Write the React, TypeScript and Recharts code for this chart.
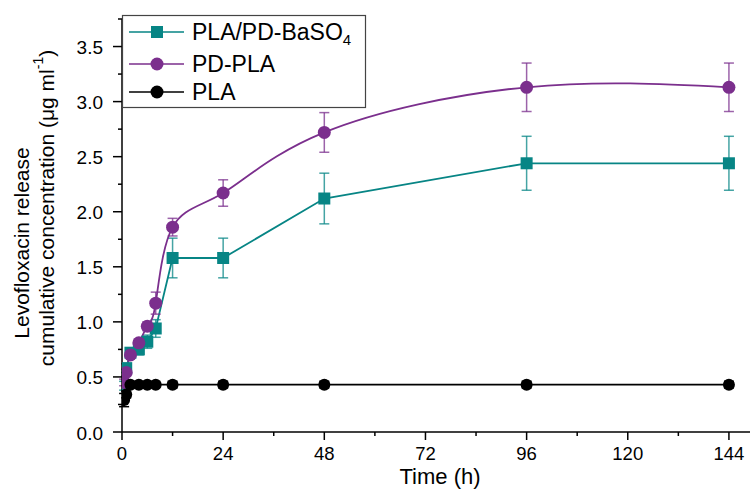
import React from 'react';
import { LineChart, Line, XAxis, YAxis, ErrorBar } from 'recharts';

// sampling times (h)
const times = [0.5, 1, 2, 4, 6, 8, 12, 24, 48, 96, 144];

// PLA/PD-BaSO4
const baso4 = [0.42, 0.58, 0.72, 0.75, 0.82, 0.94, 1.58, 1.58, 2.12, 2.44, 2.44];
const baso4Err = [0.04, 0.04, 0.04, 0.05, 0.06, 0.08, 0.18, 0.18, 0.23, 0.245, 0.245];

// PD-PLA
const pdpla = [0.45, 0.54, 0.7, 0.81, 0.96, 1.17, 1.86, 2.17, 2.72, 3.13, 3.13];
const pdplaErr = [0.03, 0.03, 0.03, 0.03, 0.04, 0.1, 0.08, 0.12, 0.18, 0.22, 0.22];

// PLA
const pla = [0.29, 0.34, 0.43, 0.43, 0.43, 0.43, 0.43, 0.43, 0.43, 0.43, 0.43];
const plaErr = [0.06, 0.03, 0.02, 0.02, 0.02, 0.02, 0.03, 0.03, 0.03, 0.03, 0.03];

const xTicks = [0, 12, 24, 36, 48, 60, 72, 84, 96, 108, 120, 132, 144];
const yTicks = [0, 0.25, 0.5, 0.75, 1, 1.25, 1.5, 1.75, 2, 2.25, 2.5, 2.75, 3, 3.25, 3.5, 3.75];

const TEAL = '#078585';
const PURPLE = '#7b2f8d';
const FONT = '"Liberation Sans", Arial, sans-serif';

const data = times.map((t, i) => ({
    t,
    baso4: baso4[i],
    baso4Err: baso4Err[i],
    pdpla: pdpla[i],
    pdplaErr: pdplaErr[i],
    pla: pla[i],
    plaErr: plaErr[i],
}));

const XTick = (props: any) => {
    const { x, y, payload } = props;
    const major = payload.value % 24 === 0;
    return (
        <g>
            <line x1={x} x2={x} y1={y} y2={y + (major ? 8 : 4)} stroke="#000" strokeWidth={1.5} />
            {major && (
                <text x={x} y={y + 21} textAnchor="middle" dominantBaseline="central" fontSize={18.5} fill="#000" fontFamily={FONT}>
                    {payload.value}
                </text>
            )}
        </g>
    );
};

const YTick = (props: any) => {
    const { x, y, payload } = props;
    const major = Math.abs(payload.value * 2 - Math.round(payload.value * 2)) < 1e-6;
    return (
        <g>
            <line x1={x - (major ? 9 : 4)} x2={x} y1={y} y2={y} stroke="#000" strokeWidth={1.5} />
            {major && (
                <text x={x - 19} y={y + 1} textAnchor="end" dominantBaseline="central" fontSize={19} fill="#000" fontFamily={FONT}>
                    {payload.value.toFixed(1)}
                </text>
            )}
        </g>
    );
};

const Square = (props: any) => {
    const { cx, cy } = props;
    if (cx == null || cy == null) return null;
    return <rect x={cx - 6} y={cy - 6} width={12} height={12} fill={TEAL} />;
};

const Circle = (color: string, r: number) => (props: any) => {
    const { cx, cy } = props;
    if (cx == null || cy == null) return null;
    return <circle cx={cx} cy={cy} r={r} fill={color} />;
};

const YLabel = () => (
    <g fontFamily={FONT} fontSize={21} fill="#000">
        <text x={21} y={243} textAnchor="middle" dominantBaseline="central" transform="rotate(-90 21 243)">
            Levofloxacin release
        </text>
        <text x={46} y={208} textAnchor="middle" dominantBaseline="central" transform="rotate(-90 46 208)">
            cumulative concentration (μg ml<tspan dy={-8} fontSize={14}>-1</tspan><tspan dy={8}>)</tspan>
        </text>
    </g>
);

const XLabel = () => (
    <text x={440} y={476} textAnchor="middle" dominantBaseline="central" fontFamily={FONT} fontSize={22} fill="#000">
        Time (h)
    </text>
);

const legendRows = [
    { label: 'PLA/PD-BaSO', sub: '4', color: TEAL, shape: 'square', y: 32 },
    { label: 'PD-PLA', sub: '', color: PURPLE, shape: 'circle', y: 64 },
    { label: 'PLA', sub: '', color: '#000', shape: 'circle', y: 92 },
];

const ChartLegend = () => (
    <svg width={750} height={490} style={{ position: 'absolute', left: 0, top: 0, pointerEvents: 'none' }}>
        <rect x={122.5} y={15.5} width={243} height={92} fill="#fff" stroke="#444" strokeWidth={1.2} />
        {legendRows.map((r) => (
            <g key={r.label}>
                <line x1={129} x2={184} y1={r.y} y2={r.y} stroke={r.color} strokeWidth={1.5} />
                {r.shape === 'square' ? (
                    <rect x={151} y={r.y - 6} width={12} height={12} fill={r.color} />
                ) : (
                    <circle cx={157} cy={r.y} r={6.5} fill={r.color} />
                )}
                <text x={192} y={r.y} dominantBaseline="central" fontFamily={FONT} fontSize={23} fill="#000">
                    {r.label}
                    {r.sub && <tspan dy={7} fontSize={15}>{r.sub}</tspan>}
                </text>
            </g>
        ))}
    </svg>
);

export default function App() {
    return (
        <div style={{ position: 'absolute', left: 0, top: 0, width: 750, height: 490, background: '#fff' }}>
            <LineChart width={750} height={490} data={data} margin={{ top: 19, right: 0, bottom: 0, left: 0 }}>
                <XAxis
                    type="number"
                    dataKey="t"
                    domain={[0, 149]}
                    ticks={xTicks}
                    interval={0}
                    tick={<XTick />}
                    tickLine={false}
                    tickSize={0}
                    tickMargin={0}
                    height={58}
                    stroke="#000"
                    strokeWidth={1.5}
                    allowDataOverflow
                    label={{ content: () => <XLabel /> }}
                />
                <YAxis
                    type="number"
                    domain={[0, 3.75]}
                    ticks={yTicks}
                    interval={0}
                    tick={<YTick />}
                    tickLine={false}
                    tickSize={0}
                    tickMargin={0}
                    width={122}
                    stroke="#000"
                    strokeWidth={1.5}
                    allowDataOverflow
                    label={{ content: () => <YLabel /> }}
                />
                <Line
                    type="linear"
                    dataKey="baso4"
                    stroke={TEAL}
                    strokeWidth={1.8}
                    dot={<Square />}
                    activeDot={false}
                    isAnimationActive={false}
                >
                    <ErrorBar dataKey="baso4Err" direction="y" width={5} stroke={TEAL} strokeWidth={1.5} strokeOpacity={0.75} />
                </Line>
                <Line
                    type="natural"
                    dataKey="pdpla"
                    stroke={PURPLE}
                    strokeWidth={1.8}
                    dot={Circle(PURPLE, 6.5)}
                    activeDot={false}
                    isAnimationActive={false}
                >
                    <ErrorBar dataKey="pdplaErr" direction="y" width={5} stroke={PURPLE} strokeWidth={1.5} strokeOpacity={0.75} />
                </Line>
                <Line
                    type="linear"
                    dataKey="pla"
                    stroke="#000"
                    strokeWidth={1.8}
                    dot={Circle('#000', 6)}
                    activeDot={false}
                    isAnimationActive={false}
                >
                    <ErrorBar dataKey="plaErr" direction="y" width={5} stroke="#000" strokeWidth={1.5} />
                </Line>
            </LineChart>
            <ChartLegend />
        </div>
    );
}
